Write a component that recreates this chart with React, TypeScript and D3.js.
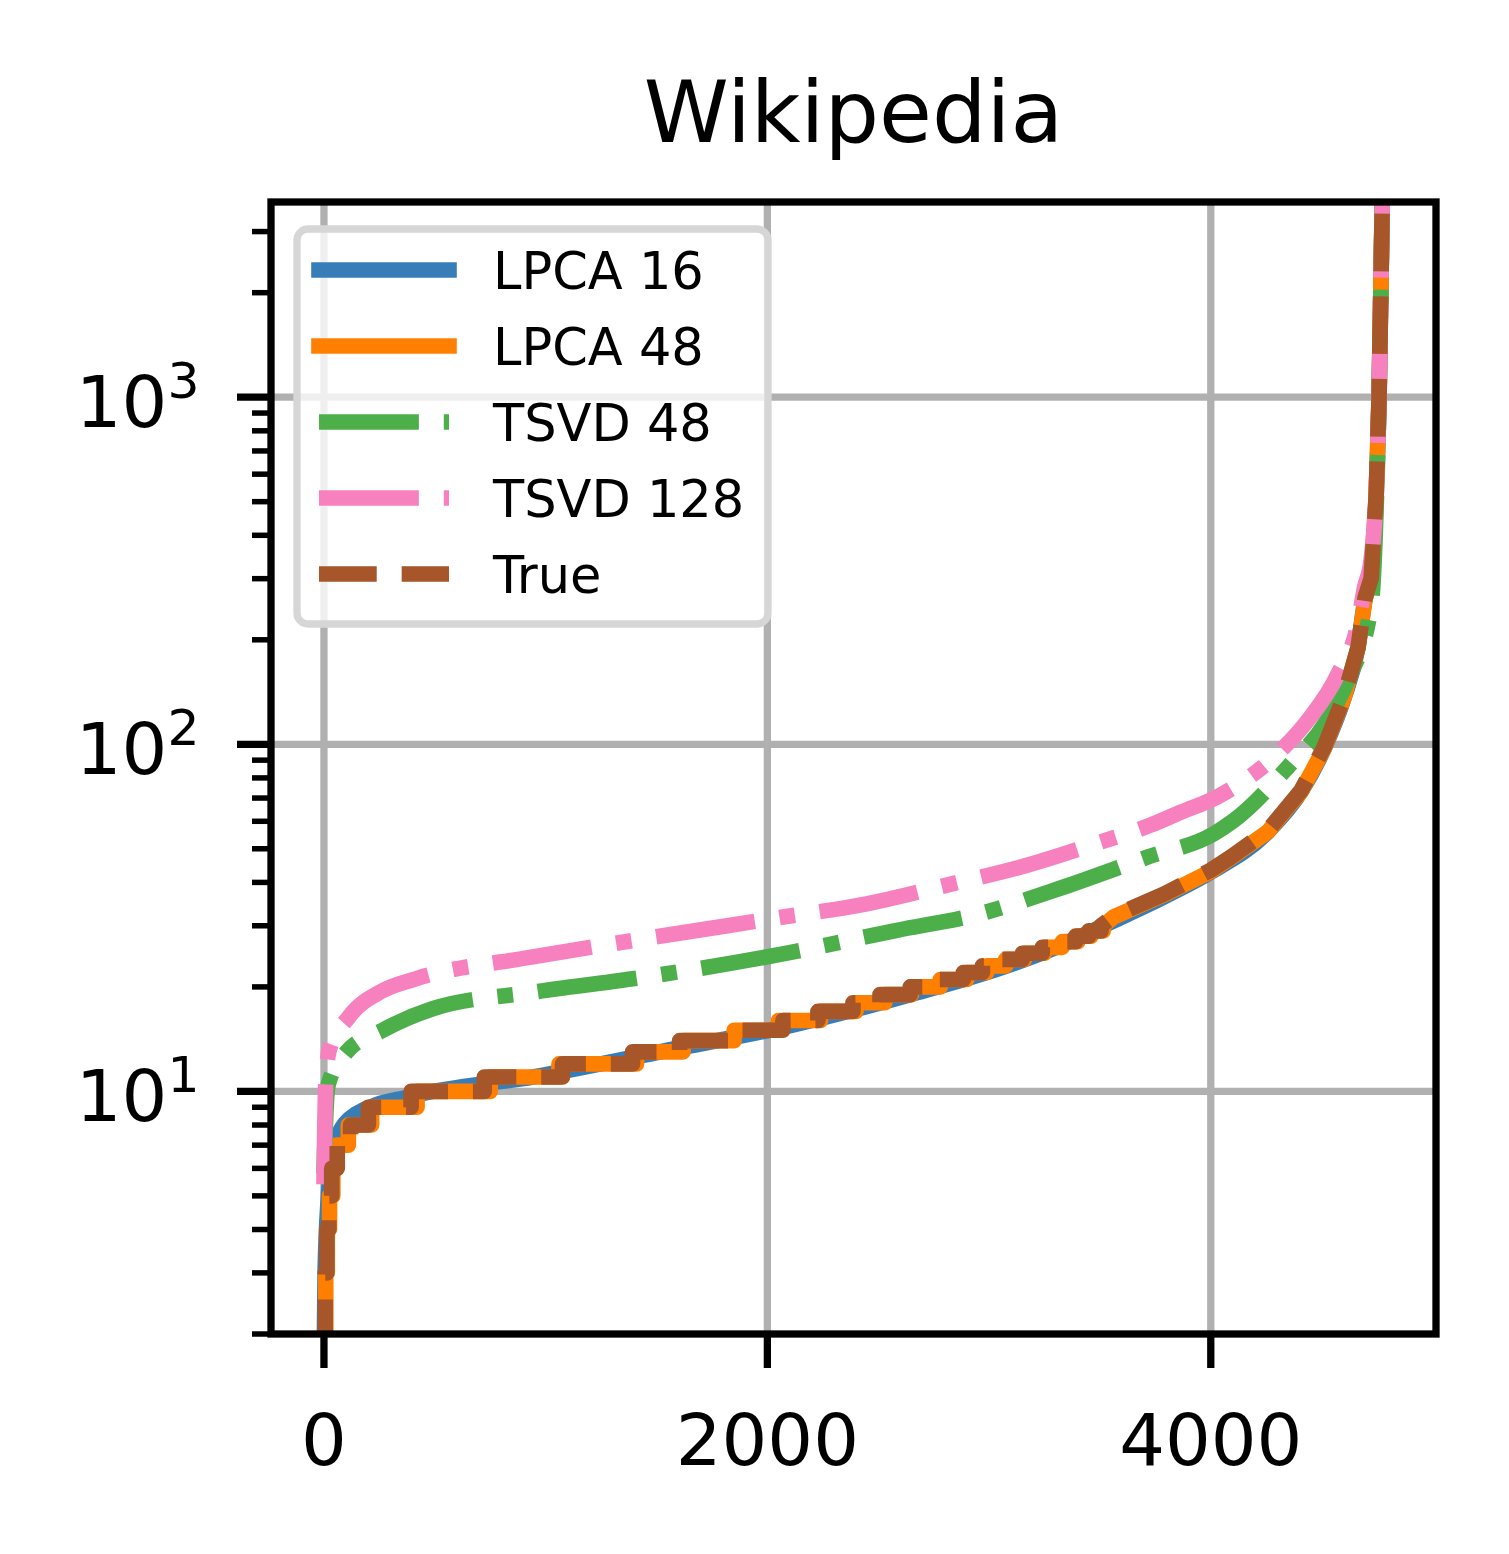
import React from "react";
import * as d3 from "d3";

// ---------- data ----------
const title = "Wikipedia";
const seriesNames = ["LPCA 16", "LPCA 48", "TSVD 48", "TSVD 128", "True"];
const xTickValues = [0, 2000, 4000];
const yMajorTicks = [10, 100, 1000];
const yDomain = [2, 3650];

// True sorted degree sequence: integer levels with index where each level starts
const trueStepIdx = [0, 2, 6, 13, 22, 35, 60, 120, 200, 393, 723, 1076, 1392, 1604, 1830, 2070, 2228, 2386, 2508, 2644, 2766, 2884, 2970, 3060, 3150, 3240, 3320, 3390, 3450, 3505];
const trueStepVal = [1, 2, 3, 4, 5, 6, 7, 8, 9, 10, 11, 12, 13, 14, 15, 16, 17, 18, 19, 20, 21, 22, 23, 24, 25, 26, 27, 28, 29, 30];
const trueTailIdx = [3562, 3788, 4000, 4090, 4258, 4407, 4511, 4601, 4664, 4696, 4723, 4746, 4759, 4773, 4777];
const trueTailVal = [32, 37, 43.4, 47.3, 56.5, 73.6, 98, 137, 190, 265, 300, 520, 1000, 3500, 5000];

// LPCA 48 (rounded, stepped)
const lpca48StepIdx = [0, 3, 8, 15, 25, 40, 55, 110, 215, 420, 750, 1060, 1410, 1620, 1850, 2050, 2240, 2400, 2530, 2650, 2780, 2900, 2990, 3075, 3160, 3250, 3330, 3400, 3460, 3515];
const lpca48StepVal = [1, 2, 3, 4, 5, 6, 7, 8, 9, 10, 11, 12, 13, 14, 15, 16, 17, 18, 19, 20, 21, 22, 23, 24, 25, 26, 27, 28, 29, 30];
const lpca48TailIdx = [3562, 3788, 4000, 4090, 4258, 4407, 4511, 4601, 4664, 4696, 4723, 4746, 4759, 4773, 4777];
const lpca48TailVal = [31.8, 36.8, 43, 47, 56, 73, 97, 136, 190, 262, 300, 520, 1000, 3500, 5000];

// LPCA 16 (smooth)
const lpca16Idx = [0, 5, 20, 45, 143, 400, 942, 1619, 2070, 2644, 3064, 3290, 3562, 3788, 4000, 4258, 4407, 4511, 4601, 4664, 4696, 4723, 4746, 4759, 4773, 4777];
const lpca16Val = [1.5, 3, 5, 7, 8.6, 9.7, 11.0, 13.4, 15.3, 19, 22.8, 25.8, 31, 36.3, 42.8, 56, 73, 97, 136, 190, 262, 300, 520, 1000, 3500, 5000];

// TSVD 48
const tsvd48Idx = [0, 10, 20, 98, 264, 490, 942, 1393, 2071, 2584, 2960, 3337, 3714, 4015, 4105, 4362, 4512, 4618, 4723, 4746, 4759, 4773, 4777];
const tsvd48Val = [5.8, 9, 10.5, 12.9, 15.0, 17.3, 19.3, 21.1, 24.9, 29.1, 32.5, 38.8, 47.3, 55.3, 60.4, 88, 114, 153, 250, 480, 1000, 3500, 5000];

// TSVD 128
const tsvd128Idx = [0, 8, 23, 113, 264, 414, 942, 1393, 2071, 2448, 2810, 3171, 3503, 3729, 3864, 4030, 4301, 4437, 4573, 4664, 4693, 4723, 4746, 4759, 4773, 4777];
const tsvd128Val = [5.4, 10.5, 13.1, 16.4, 19.5, 21.1, 24.4, 27.2, 31.8, 34.7, 39.3, 44.8, 52.3, 58.5, 63.7, 70.6, 94, 117, 159, 223, 282, 340, 540, 1000, 3500, 5000];

const colors = ["#377eb8", "#ff7f00", "#4daf4a", "#f781bf", "#a65628"];

// ---------- layout ----------
const W = 1509;
const H = 1554;
const L = 271, R = 1436, T = 202, B = 1334;
const LW = 15.6;
const FONT = "DejaVu Sans, Bitstream Vera Sans, sans-serif";
const TICK_FS = 72;
const DASHDOT = `${6.4 * LW} ${1.6 * LW} ${1 * LW} ${1.6 * LW}`;
const DASHED = `${3.7 * LW} ${1.6 * LW}`;

type P = [number, number];

function zip(a: number[], b: number[]): P[] {
  return a.map((v, i) => [v, b[i]] as P);
}
function stepped(idx: number[], val: number[], tailIdx: number[], tailVal: number[]): P[] {
  const pts: P[] = [];
  idx.forEach((s, i) => {
    pts.push([s, val[i]]);
    if (i < idx.length - 1) pts.push([idx[i + 1], val[i]]);
  });
  return pts.concat(zip(tailIdx, tailVal));
}

export default function App() {
  const allIdx = [...trueTailIdx, ...lpca16Idx, ...tsvd48Idx, ...tsvd128Idx];
  const xMax = d3.max(allIdx) as number;
  const xMin = 0;
  const pad = (xMax - xMin) * 0.05;
  const x = d3.scaleLinear().domain([xMin - pad, xMax + pad]).range([L, R]);
  const y = d3.scaleLog().domain(yDomain).range([B, T]);

  const smooth = d3.line<P>().x((d) => x(d[0])).y((d) => y(d[1])).curve(d3.curveMonotoneX);
  const linear = d3.line<P>().x((d) => x(d[0])).y((d) => y(d[1]));

  const series = [
    { name: seriesNames[0], color: colors[0], d: smooth(zip(lpca16Idx, lpca16Val)), dash: null },
    { name: seriesNames[1], color: colors[1], d: linear(stepped(lpca48StepIdx, lpca48StepVal, lpca48TailIdx, lpca48TailVal)), dash: null },
    { name: seriesNames[2], color: colors[2], d: smooth(zip(tsvd48Idx, tsvd48Val)), dash: DASHDOT },
    { name: seriesNames[3], color: colors[3], d: smooth(zip(tsvd128Idx, tsvd128Val)), dash: DASHDOT },
    { name: seriesNames[4], color: colors[4], d: linear(stepped(trueStepIdx, trueStepVal, trueTailIdx, trueTailVal)), dash: DASHED },
  ];

  const minorTicks: number[] = [];
  for (let dec = 1; dec <= 1000; dec *= 10) {
    for (let k = 2; k <= 9; k++) {
      const v = k * dec;
      if (v >= yDomain[0] && v <= yDomain[1] && !yMajorTicks.includes(v)) minorTicks.push(v);
    }
  }

  const legendX0 = 319, legendX1 = 449, legendY0 = 270, legendStep = 76;

  return (
    <svg width={W} height={H} style={{ position: "absolute", left: 0, top: 0, background: "#fff" }} fontFamily={FONT}>
      <defs>
        <clipPath id="plotclip">
          <rect x={L} y={T} width={R - L} height={B - T} />
        </clipPath>
      </defs>
      <rect x={0} y={0} width={W} height={H} fill="#fff" />

      {/* grid */}
      <g stroke="#b0b0b0" strokeWidth={7.3}>
        {xTickValues.map((t) => (
          <line key={"gx" + t} x1={x(t)} x2={x(t)} y1={T} y2={B} />
        ))}
        {yMajorTicks.map((t) => (
          <line key={"gy" + t} x1={L} x2={R} y1={y(t)} y2={y(t)} />
        ))}
      </g>

      {/* lines */}
      <g clipPath="url(#plotclip)" fill="none">
        {series.map((s) => (
          <path
            key={s.name}
            d={s.d || ""}
            stroke={s.color}
            strokeWidth={LW}
            strokeDasharray={s.dash || undefined}
            strokeLinecap={s.dash ? "butt" : "square"}
            strokeLinejoin="round"
          />
        ))}
      </g>

      {/* spines */}
      <rect x={L} y={T} width={R - L} height={B - T} fill="none" stroke="#000" strokeWidth={7.3} strokeLinejoin="miter" />

      {/* x ticks */}
      {xTickValues.map((t) => (
        <g key={"xt" + t}>
          <line x1={x(t)} x2={x(t)} y1={B} y2={B + 34} stroke="#000" strokeWidth={7.3} />
          <text x={x(t)} y={1465} fontSize={TICK_FS} textAnchor="middle" fill="#000">
            {t}
          </text>
        </g>
      ))}

      {/* y ticks */}
      {yMajorTicks.map((t) => (
        <g key={"yt" + t}>
          <line x1={L} x2={L - 34} y1={y(t)} y2={y(t)} stroke="#000" strokeWidth={7.3} />
          <text x={199.5} y={y(t) + 29.7} fontSize={TICK_FS} textAnchor="end" fill="#000">
            10
            <tspan dy={-28.8} fontSize={TICK_FS * 0.7}>
              {Math.round(Math.log10(t))}
            </tspan>
          </text>
        </g>
      ))}
      {minorTicks.map((t) => (
        <line key={"ym" + t} x1={L} x2={L - 19} y1={y(t)} y2={y(t)} stroke="#000" strokeWidth={5.5} />
      ))}

      {/* title */}
      <text x={(L + R) / 2} y={142} fontSize={86} textAnchor="middle" fill="#000">
        {title}
      </text>

      {/* legend */}
      <rect x={297} y={229} width={471} height={395} rx={11} ry={11} fill="#ffffff" fillOpacity={0.8} stroke="#d6d6d6" strokeWidth={7.3} />
      {series.map((s, i) => {
        const yy = legendY0 + i * legendStep;
        return (
          <g key={"lg" + s.name}>
            <line
              x1={legendX0}
              x2={legendX1}
              y1={yy}
              y2={yy}
              stroke={s.color}
              strokeWidth={LW}
              strokeDasharray={s.dash || undefined}
              strokeLinecap={s.dash ? "butt" : "square"}
            />
            <text x={493} y={yy + 19} fontSize={51} fill="#000">
              {s.name}
            </text>
          </g>
        );
      })}
    </svg>
  );
}
